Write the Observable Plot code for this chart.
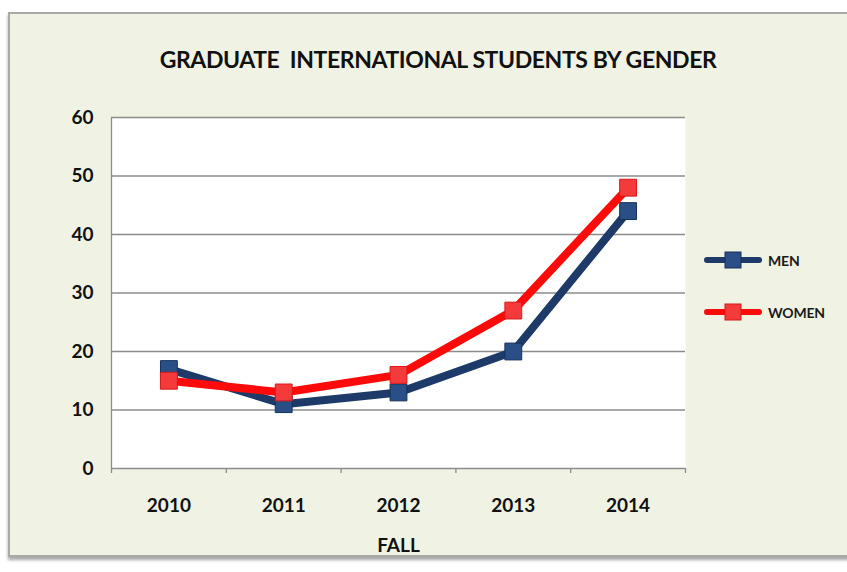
<!DOCTYPE html>
<html>
<head>
<meta charset="utf-8">
<script src="https://cdn.jsdelivr.net/npm/d3@7"></script>
<script src="https://cdn.jsdelivr.net/npm/@observablehq/plot@0.6"></script>
<style>
  html, body { margin: 0; padding: 0; background: #ffffff; }
  #wrap { position: relative; width: 847px; height: 572px; overflow: hidden; font-family: Lato, "Liberation Sans", sans-serif; }
  #frame { position: absolute; left: 8px; top: 12px; width: 850px; height: 541px; background: #f0f3e3; border: 2px solid #a9aaa4; box-shadow: 0 3px 3px rgba(0,0,0,0.35); }
  #title { position: absolute; left: 111px; width: 654px; top: 45px; text-align: center; font-weight: 700; font-size: 23px; color: #111; white-space: pre; letter-spacing: -0.4px; }
  #chart { position: absolute; left: 0; top: 0; }
  .leg { position: absolute; left: 704px; display: flex; align-items: center; font-size: 14px; font-weight: 700; color: #1a1a1a; letter-spacing: -0.2px; }
  .leg svg { margin-right: 6px; }
</style>
</head>
<body>
<div id="wrap">
  <div id="frame"></div>
  <div id="title">GRADUATE  INTERNATIONAL STUDENTS BY GENDER</div>
  <div id="chart"></div>
  <div id="legend"></div>
</div>
<script>
const years = [2010, 2011, 2012, 2013, 2014];
const men = [17, 11, 13, 20, 44];
const women = [15, 13, 16, 27, 48];
const yTicks = [0, 10, 20, 30, 40, 50, 60];
const seriesNames = ["MEN", "WOMEN"];
const seriesColors = ["#1d3a68", "#ff0a0a"];
const markerFill = ["#2a4f86", "#f43a3a"];
const markerStroke = ["#16305a", "#d81818"];

const rows = [];
years.forEach((yr, i) => {
  rows.push({year: yr, value: men[i], series: "MEN"});
  rows.push({year: yr, value: women[i], series: "WOMEN"});
});
const bounds = [years[0] - 0.5, ...years.map(y => y + 0.5)];
const bold = {fontFamily: "Lato, 'Liberation Sans', sans-serif", fontWeight: 700};

const plot = Plot.plot({
  width: 847,
  height: 572,
  marginLeft: 111,
  marginRight: 162,
  marginTop: 117,
  marginBottom: 104,
  style: {background: "transparent", overflow: "visible"},
  x: {type: "linear", domain: [bounds[0], bounds[bounds.length - 1]], axis: null},
  y: {type: "linear", domain: [0, 60], axis: null},
  marks: [
    Plot.frame({fill: "#ffffff", stroke: "none"}),
    Plot.ruleY(yTicks, {stroke: "#8c8c8c", strokeWidth: 1.3}),
    Plot.ruleX([bounds[0]], {stroke: "#8c8c8c", strokeWidth: 1.3}),
    Plot.ruleX(bounds, {x: d => d, y1: 0, y2: 0, insetBottom: -5, stroke: "#8c8c8c", strokeWidth: 1.3}),
    Plot.text(years, {x: d => d, y: 0, text: d => String(d), dy: 37, fontSize: 19, ...bold, fill: "#111"}),
    Plot.text(yTicks, {x: bounds[0], y: d => d, text: d => String(d), dx: -18, textAnchor: "end", fontSize: 19, ...bold, fill: "#111"}),
    Plot.text(["FALL"], {x: (bounds[0] + bounds[bounds.length - 1]) / 2, y: 0, text: d => d, dy: 77, fontSize: 19, ...bold, fill: "#111"}),
    Plot.line(rows.filter(d => d.series === "MEN"), {x: "year", y: "value", stroke: seriesColors[0], strokeWidth: 8, strokeLinejoin: "round", strokeLinecap: "round"}),
    Plot.line(rows.filter(d => d.series === "WOMEN"), {x: "year", y: "value", stroke: seriesColors[1], strokeWidth: 8, strokeLinejoin: "round", strokeLinecap: "round"}),
    Plot.dot(rows.filter(d => d.series === "MEN"), {x: "year", y: "value", symbol: "square", r: 9.5, fill: markerFill[0], stroke: markerStroke[0], strokeWidth: 1}),
    Plot.dot(rows.filter(d => d.series === "WOMEN"), {x: "year", y: "value", symbol: "square", r: 9.5, fill: markerFill[1], stroke: markerStroke[1], strokeWidth: 1})
  ]
});
document.getElementById("chart").appendChild(plot);

const legend = document.getElementById("legend");
const legTops = [250, 302];
seriesNames.forEach((name, i) => {
  const div = document.createElement("div");
  div.className = "leg";
  div.style.top = legTops[i] + "px";
  div.innerHTML = `<svg width="58" height="20"><line x1="3" x2="55" y1="10" y2="10" stroke="${seriesColors[i]}" stroke-width="6" stroke-linecap="round"/><rect x="21" y="2" width="16" height="16" fill="${markerFill[i]}" stroke="${markerStroke[i]}"/></svg><span>${name}</span>`;
  legend.appendChild(div);
});
</script>
</body>
</html>
